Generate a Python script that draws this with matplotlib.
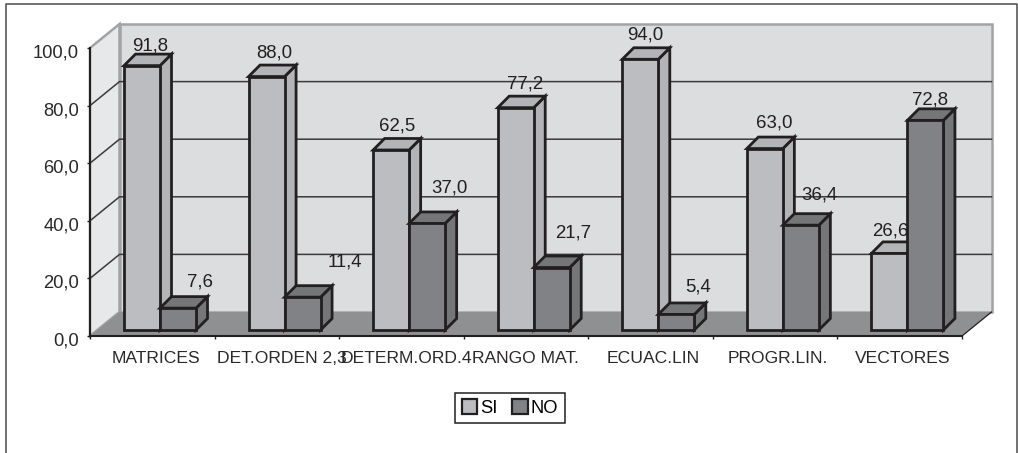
import matplotlib
matplotlib.use("Agg")
from matplotlib import pyplot as plt
from matplotlib.lines import Line2D
from matplotlib.patches import Patch, Polygon
from matplotlib.transforms import ScaledTranslation

categories = ["MATRICES", "DET.ORDEN 2,3", "DETERM.ORD.4", "RANGO MAT.", "ECUAC.LIN", "PROGR.LIN.", "VECTORES"]
si_values = [91.8, 88.0, 62.5, 77.2, 94.0, 63.0, 26.6]
no_values = [7.6, 11.4, 37.0, 21.7, 5.4, 36.4, 72.8]
si_labels = ["91,8", "88,0", "62,5", "77,2", "94,0", "63,0", "26,6"]
no_labels = ["7,6", "11,4", "37,0", "21,7", "5,4", "36,4", "72,8"]
y_ticks = [0, 20, 40, 60, 80, 100]
y_tick_labels = ["0,0", "20,0", "40,0", "60,0", "80,0", "100,0"]

# label nudges from the top-front-left corner of each bar, in pixels (right, up)
si_label_nudge = [(26, 20), (26, 24), (24, 24), (27, 24), (23, 24), (27, 26), (19, 22)]
no_label_nudge = [(40, 26), (60, 35), (40, 35), (39, 35), (40, 27), (37, 30), (23, 20)]
# category labels are not evenly centred in the reference, pixels to the right
category_nudge = [4, 5, 5, -1, 3, 3, 3]

FIG_W, FIG_H = 1018, 453
PLOT_LEFT, PLOT_RIGHT, PLOT_TOP, PLOT_BOTTOM = 90, 962, 48, 336
PX_X = 7 / (PLOT_RIGHT - PLOT_LEFT)
PX_Y = 100 / (PLOT_BOTTOM - PLOT_TOP)

WALL_DX, WALL_DY = 29.5 * PX_X, 24 * PX_Y
BAR_DX, BAR_DY = 11.5 * PX_X, 11.5 * PX_Y
BAR_BASE = 6 * PX_Y
BAR_W = 36 * PX_X
BAR_START = 34 * PX_X
BAR_LW = 2.0

INK = "#231f20"
WALL = "#dcddde"
SIDE_WALL = "#e7e8e9"
FLOOR = "#8f9092"
WALL_EDGE = "#a2a3a5"
SI_FRONT, SI_SIDE = "#bcbdc0", "#b3b4b7"
NO_FRONT, NO_SIDE = "#808285", "#747678"


def draw_bar(ax, left, value, front, side, zorder):
    right = left + BAR_W
    top = BAR_BASE + value
    ax.bar(left, value, BAR_W, bottom=BAR_BASE, align="edge", facecolor=front, edgecolor=INK,
           linewidth=BAR_LW, zorder=zorder + 1, clip_on=False)
    ax.add_patch(Polygon([(right, BAR_BASE), (right + BAR_DX, BAR_BASE + BAR_DY),
                          (right + BAR_DX, top + BAR_DY), (right, top)],
                         facecolor=side, edgecolor=INK, linewidth=BAR_LW, zorder=zorder, clip_on=False))
    ax.add_patch(Polygon([(left, top), (left + BAR_DX, top + BAR_DY),
                          (right + BAR_DX, top + BAR_DY), (right, top)],
                         facecolor=side, edgecolor=INK, linewidth=BAR_LW, zorder=zorder, clip_on=False))


def draw_walls(ax):
    n = len(categories)
    ax.add_patch(Polygon([(WALL_DX, WALL_DY), (n + WALL_DX, WALL_DY), (n + WALL_DX, 100 + WALL_DY),
                          (WALL_DX, 100 + WALL_DY)], closed=True, facecolor=WALL, edgecolor=WALL_EDGE,
                         linewidth=1.8, zorder=1, clip_on=False))
    ax.add_patch(Polygon([(0, 0), (WALL_DX, WALL_DY), (WALL_DX, 100 + WALL_DY), (0, 100)],
                         facecolor=SIDE_WALL, edgecolor=WALL_EDGE, linewidth=1.8, zorder=1, clip_on=False))
    ax.add_patch(Polygon([(0, 0), (n, 0), (n + WALL_DX, WALL_DY), (WALL_DX, WALL_DY)],
                         facecolor=FLOOR, edgecolor="none", zorder=2, clip_on=False))
    ax.plot([n, n + WALL_DX], [0, WALL_DY], color=INK, linewidth=0.9, zorder=2, clip_on=False)
    for v in y_ticks[1:-1]:
        ax.plot([0, WALL_DX, n + WALL_DX], [v, v + WALL_DY, v + WALL_DY], color="#3a3a3c",
                linewidth=1.1, zorder=2, clip_on=False)


def main():
    plt.rcParams["font.family"] = ["Liberation Sans", "DejaVu Sans"]
    fig = plt.figure(figsize=(FIG_W / 100, FIG_H / 100), dpi=100)
    ax = fig.add_axes([PLOT_LEFT / FIG_W, 1 - PLOT_BOTTOM / FIG_H,
                       (PLOT_RIGHT - PLOT_LEFT) / FIG_W, (PLOT_BOTTOM - PLOT_TOP) / FIG_H])
    ax.set_xlim(0, len(categories))
    ax.set_ylim(0, 100)
    ax.patch.set_visible(False)
    for name in ("top", "right"):
        ax.spines[name].set_visible(False)
    for name in ("left", "bottom"):
        ax.spines[name].set_color(INK)
        ax.spines[name].set_linewidth(1.5)
        ax.spines[name].set_zorder(3)

    draw_walls(ax)

    z = 4
    for i, (si, no) in enumerate(zip(si_values, no_values)):
        si_left = i + BAR_START
        no_left = si_left + BAR_W
        draw_bar(ax, si_left, si, SI_FRONT, SI_SIDE, z)
        draw_bar(ax, no_left, no, NO_FRONT, NO_SIDE, z + 2)
        z += 4
        ax.annotate(si_labels[i], (si_left, BAR_BASE + si), xytext=si_label_nudge[i],
                    textcoords="offset pixels", ha="center", va="center", fontsize=13.4,
                    color=INK, zorder=100)
        ax.annotate(no_labels[i], (no_left, BAR_BASE + no), xytext=no_label_nudge[i],
                    textcoords="offset pixels", ha="center", va="center", fontsize=13.4,
                    color=INK, zorder=100)

    ax.set_yticks(y_ticks, y_tick_labels, fontsize=13.2, color="#2b2829")
    ax.tick_params(axis="y", length=2.5, width=1, color=INK, pad=5.5)
    shift = ScaledTranslation(0, -3 / 100, fig.dpi_scale_trans)
    for lbl in ax.get_yticklabels():
        lbl.set_transform(lbl.get_transform() + shift)

    ax.set_xticks(range(len(categories) + 1), [""] * (len(categories) + 1))
    ax.set_xticks([i + 0.5 + category_nudge[i] * PX_X for i in range(len(categories))], categories,
                  minor=True, fontsize=12.6, color="#2b2829")
    ax.tick_params(axis="x", which="major", length=2.5, width=1, color=INK)
    ax.tick_params(axis="x", which="minor", length=0, pad=11)

    handles = [Patch(facecolor=SI_FRONT, edgecolor=INK, linewidth=1.6, label="SI"),
               Patch(facecolor=NO_FRONT, edgecolor=INK, linewidth=1.6, label="NO")]
    leg = fig.legend(handles=handles, loc="center", bbox_to_anchor=(510 / FIG_W, 1 - 408 / FIG_H), ncols=2,
                     fontsize=13.2, frameon=True, fancybox=False, framealpha=1, edgecolor=INK,
                     handlelength=0.85, handleheight=0.85, handletextpad=0.15, columnspacing=0.8,
                     borderpad=0.35, borderaxespad=0)
    leg.get_frame().set_linewidth(1.1)

    # outer chart frame, its bottom edge is cut off by the image
    frame_x = [6 / FIG_W, 6 / FIG_W, 1017 / FIG_W, 1017 / FIG_W]
    frame_y = [0, 1 - 4 / FIG_H, 1 - 4 / FIG_H, 0]
    fig.add_artist(Line2D(frame_x, frame_y, color="#4a4a4c", linewidth=1.1, transform=fig.transFigure))

    fig.savefig("out.png", dpi=100)


if __name__ == '__main__':
    main()
